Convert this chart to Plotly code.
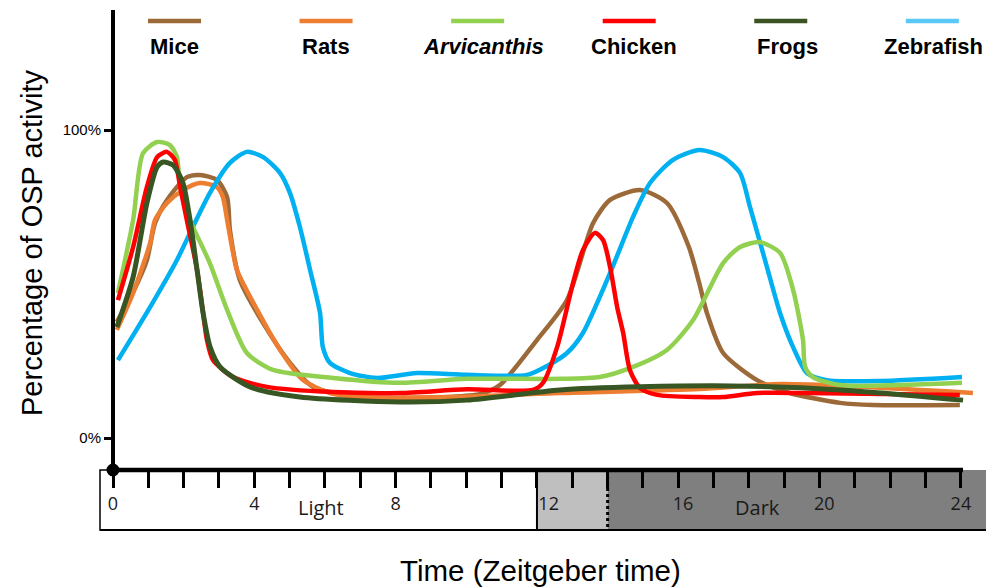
import plotly.graph_objects as go

# ---------------- data ----------------
series_names = ["Mice", "Rats", "Arvicanthis", "Chicken", "Frogs", "Zebrafish"]
series_colors = ["#9C6A38", "#ED7D31", "#92D050", "#FF0000", "#375623", "#00B0F0"]
legend_colors = ["#9C6A38", "#ED7D31", "#92D050", "#FF0000", "#3B5323", "#5BC8F5"]

mice_t = [0.11, 0.57, 0.96, 1.19, 1.53, 2.09, 2.46, 2.94, 3.23, 3.31, 3.59, 4.25, 5.01, 5.66, 6.99, 8.1, 9.5,
          10.4, 10.95, 12.0, 12.85, 13.59, 14.07, 14.92, 15.68, 16.3, 16.6, 16.81, 17.27, 18.23, 19.16, 20.58,
          21.5, 23.97]
mice_v = [37.7, 47.4, 57.8, 69.8, 77.3, 84.7, 85.4, 83.8, 78.2, 67.5, 51.3, 37.3, 24.4, 16.6, 13.3, 13.0, 13.3,
          14.3, 17.2, 31.8, 44.8, 69.8, 77.3, 80.5, 76.3, 62.0, 50.0, 40.6, 27.6, 18.8, 14.6, 11.4,
          10.7, 10.7]

rats_t = [0.11, 0.57, 1.05, 1.19, 1.53, 1.98, 2.46, 2.94, 3.11, 3.23, 3.40, 3.51, 4.08, 4.73, 5.38, 6.14, 6.99,
          9.5, 12.65, 16.6, 18.9, 24.34]
rats_v = [35.1, 47.1, 63.3, 70.8, 76.3, 80.5, 82.8, 81.5, 78.2, 70.8, 60.1, 54.5, 41.6, 28.6, 18.8, 14.6, 13.3,
          13.3, 14.6, 15.9, 17.5, 14.6]

arvi_t = [0.14, 0.57, 0.85, 1.25, 1.61, 1.81, 1.90, 2.18, 2.74, 3.23, 3.79, 4.53, 6.23, 8.12, 10.0, 12.65,
          13.78, 14.72, 15.68, 16.42, 17.27, 17.75, 18.31, 18.88, 19.25, 19.53, 19.59, 19.81, 20.58, 24.03]
arvi_v = [47.1, 70.8, 92.5, 96.1, 95.1, 91.2, 81.5, 70.8, 56.8, 41.6, 27.6, 22.1, 19.5, 17.9, 19.2, 19.2,
          19.8, 23.1, 28.6, 38.3, 56.8, 62.0, 63.6, 60.1, 48.1, 31.8, 23.1, 19.8, 17.2, 17.9]

chick_t = [0.14, 0.57, 0.96, 1.25, 1.53, 1.75, 1.90, 2.09, 2.38, 2.55, 2.66, 2.83, 3.40, 4.36, 6.23, 8.12,
           10.02, 11.89, 12.17, 12.57, 13.02, 13.30, 13.64, 13.87, 14.07, 14.27, 14.44, 14.63, 14.92, 15.4,
           16.6, 17.27, 18.23, 19.64, 23.97]
chick_v = [44.8, 62.0, 81.5, 91.2, 92.9, 90.3, 81.5, 70.8, 54.5, 40.6, 31.8, 25.3, 19.8, 16.6, 14.9, 14.6,
           15.8, 15.6, 17.9, 29.5, 50.3, 61.0, 66.6, 64.3, 55.5, 42.5, 34.1, 22.1, 16.2, 14.0,
           13.3, 13.3, 14.6, 14.6, 14.0]

frog_t = [0.11, 0.57, 0.96, 1.25, 1.42, 1.70, 1.98, 2.18, 2.38, 2.55, 2.75, 3.03, 3.88, 5.29, 8.12, 10.02,
          12.65, 14.92, 17.5, 20.58, 24.06]
frog_v = [36.0, 52.3, 76.3, 88.0, 89.6, 88.6, 82.8, 70.8, 54.5, 40.6, 29.5, 23.1, 16.6, 13.3, 11.7, 12.3,
          15.6, 16.6, 16.9, 15.6, 12.3]

zeb_t = [0.14, 1.05, 1.81, 2.26, 2.74, 3.31, 3.79, 4.25, 4.73, 5.01, 5.29, 5.58, 5.86, 5.94, 6.14, 6.71,
         7.47, 8.6, 10.0, 11.72, 12.3, 12.85, 13.30, 14.07, 14.72, 15.2, 15.85, 16.6, 17.27, 17.75, 18.03,
         18.51, 18.88, 19.25, 19.64, 20.2, 21.71, 24.03]
zeb_v = [25.3, 42.5, 57.8, 68.5, 79.5, 89.3, 92.9, 91.2, 86.0, 79.5, 68.5, 54.5, 40.6, 29.5, 24.4, 21.1,
         19.5, 21.1, 20.5, 20.5, 23.5, 27.6, 34.1, 53.6, 71.8, 82.8, 90.3, 93.5, 91.2, 86.0, 75.0,
         55.5, 40.6, 29.5, 21.1, 18.8, 18.5, 19.8]

series_t = [mice_t, rats_t, arvi_t, chick_t, frog_t, zeb_t]
series_v = [mice_v, rats_v, arvi_v, chick_v, frog_v, zeb_v]

hour_ticks = list(range(0, 25))
hour_labels = [str(h) if h % 4 == 0 else "" for h in hour_ticks]
pct_ticks = [0, 100]
pct_labels = ["0%", "100%"]

light_start, light_end, dark_start = 0, 12, 14

# ---------------- layout geometry ----------------
W, H = 986, 587
PX_H = 35.33      # px per hour
X0 = 113          # px of hour 0
PX_P = 3.08       # px per percent
Y0 = 438          # px of 0 %


def hx(px):
    return (px - X0) / PX_H


def py(px):
    return (Y0 - px) / PX_P


# tick labels: the "12" label sits to the right of its tick in the reference
tick_text = []
for t in hour_labels:
    if t == "12":
        t = "\u00a0" * 5 + t
    elif t in ("16", "20"):
        t = "\u00a0" * 2 + t
    tick_text.append(t)

fig = go.Figure()

draw_order = [0, 1, 5, 2, 3, 4]
for i in draw_order:
    fig.add_trace(go.Scatter(
        x=series_t[i], y=series_v[i], mode="lines", name=series_names[i],
        line=dict(color=series_colors[i], width=5 if i == 4 else 4.5, shape="spline", smoothing=0.7),
        showlegend=False, hoverinfo="skip"))

axis_y = py(470)
bar_bot = py(530)
shapes = []
# light/dark bar
shapes.append(dict(type="rect", xref="x", yref="y", x0=hx(100), x1=light_end, y0=axis_y, y1=bar_bot,
                   fillcolor="white", line=dict(color="black", width=1.5), layer="below"))
shapes.append(dict(type="rect", xref="x", yref="y", x0=light_end, x1=dark_start, y0=axis_y, y1=bar_bot,
                   fillcolor="#BFBFBF", line=dict(width=0), layer="below"))
shapes.append(dict(type="rect", xref="x", yref="y", x0=dark_start, x1=hx(W + 5), y0=axis_y, y1=bar_bot,
                   fillcolor="#7F7F7F", line=dict(width=0), layer="below"))
shapes.append(dict(type="line", xref="x", yref="y", x0=hx(100), x1=hx(W + 5), y0=bar_bot, y1=bar_bot,
                   line=dict(color="black", width=2), layer="below"))
shapes.append(dict(type="line", xref="x", yref="y", x0=light_end, x1=light_end, y0=axis_y, y1=bar_bot,
                   line=dict(color="black", width=2), layer="below"))
shapes.append(dict(type="line", xref="x", yref="y", x0=dark_start, x1=dark_start, y0=axis_y, y1=bar_bot,
                   line=dict(color="black", width=3, dash="dot"), layer="below"))
# axes lines
shapes.append(dict(type="line", xref="x", yref="y", x0=0, x1=0, y0=py(10), y1=axis_y,
                   line=dict(color="black", width=4)))
shapes.append(dict(type="line", xref="x", yref="y", x0=0, x1=hx(963), y0=axis_y, y1=axis_y,
                   line=dict(color="black", width=4.5)))
shapes.append(dict(type="circle", xref="x", yref="y", xsizemode="pixel", ysizemode="pixel",
                   xanchor=0, yanchor=axis_y, x0=-6.5, x1=6.5, y0=-6.5, y1=6.5,
                   fillcolor="black", line=dict(color="black", width=0)))

annotations = []
# legend drawn as line samples above the labels
leg_start = hx(148)
leg_step = 4.29
leg_len = hx(201) - hx(148)
leg_shift = [0, 0, 6, 5, 7, 1]
for i, name in enumerate(series_names):
    xa = leg_start + i * leg_step
    shapes.append(dict(type="line", xref="x", yref="y", x0=xa, x1=xa + leg_len, y0=py(21), y1=py(21),
                       line=dict(color=legend_colors[i], width=4.5)))
    label = f"<b><i>{name}</i></b>" if name == "Arvicanthis" else f"<b>{name}</b>"
    annotations.append(dict(x=xa + leg_len / 2, y=py(46), xref="x", yref="y", text=label, showarrow=False,
                            xshift=leg_shift[i],
                            font=dict(family="Liberation Sans, Arial", size=22, color="black")))

annotations.append(dict(x=hx(321), y=py(507), xref="x", yref="y", text="Light", showarrow=False,
                        font=dict(family="Open Sans", size=20, color="#1a1a1a")))
annotations.append(dict(x=hx(757), y=py(507), xref="x", yref="y", text="Dark", showarrow=False,
                        font=dict(family="Open Sans", size=20, color="#1a1a1a")))
annotations.append(dict(x=hx(540), y=py(570), xref="x", yref="y", text="Time (Zeitgeber time)",
                        showarrow=False, font=dict(family="Liberation Sans, Arial", size=29.5, color="black")))
annotations.append(dict(x=hx(32), y=py(243), xref="x", yref="y", text="Percentage of OSP activity",
                        textangle=-90, showarrow=False,
                        font=dict(family="Liberation Sans, Arial", size=29, color="black")))

fig.update_layout(
    width=W, height=H,
    margin=dict(l=0, r=0, t=0, b=0),
    paper_bgcolor="white", plot_bgcolor="rgba(0,0,0,0)",
    shapes=shapes, annotations=annotations,
    xaxis=dict(range=[hx(0), hx(W)], anchor="free", position=(H - 470) / H,
               showgrid=False, zeroline=False, showline=False,
               tickmode="array", tickvals=hour_ticks, ticktext=tick_text,
               ticks="outside", ticklen=17, tickwidth=3, tickcolor="black",
               tickfont=dict(family="Open Sans", size=18, color="#1a1a1a"),
               automargin=False, fixedrange=True),
    yaxis=dict(range=[py(H), py(0)], anchor="free", position=X0 / W,
               showgrid=False, zeroline=False, showline=False,
               tickmode="array", tickvals=pct_ticks, ticktext=pct_labels,
               ticks="outside", ticklen=9, tickwidth=2.5, tickcolor="black",
               tickfont=dict(family="Liberation Sans, Arial", size=15, color="black"),
               automargin=False, fixedrange=True),
)

fig.write_html("out.html", config={"displayModeBar": False},
               post_script="document.body.style.margin='0px';")
